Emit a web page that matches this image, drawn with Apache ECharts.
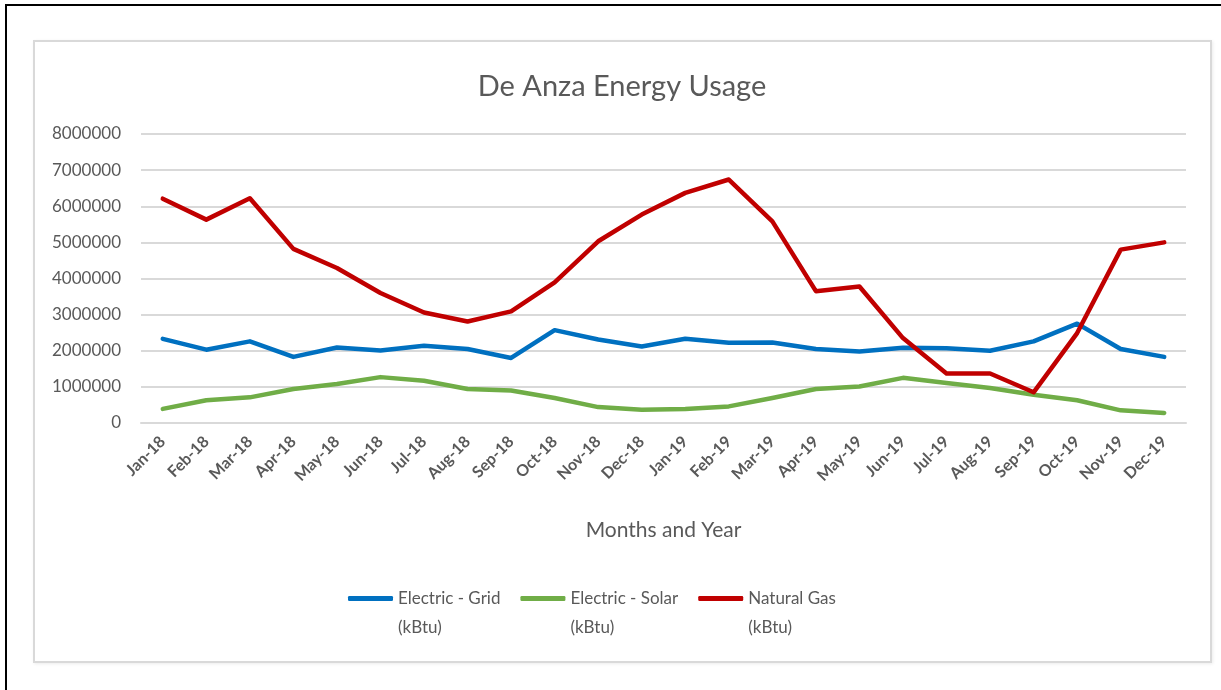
<!DOCTYPE html>
<html>
<head>
<meta charset="utf-8">
<title>De Anza Energy Usage</title>
<script src="https://cdn.jsdelivr.net/npm/echarts@6/dist/echarts.min.js"></script>
<style>
    html, body { margin: 0; padding: 0; background: #fff; }
    #frame {
        position: absolute; left: 5px; top: 4px; width: 1216px; height: 686px;
        border-left: 2px solid #000; border-top: 2px solid #000;
    }
    #panel {
        position: absolute; left: 33px; top: 40px; width: 1175px; height: 619px;
        border: 2px solid #d9d9d9; box-shadow: 1px 1px 3px rgba(0,0,0,0.08);
    }
    #chart { position: absolute; left: 0; top: 0; width: 1221px; height: 690px; }
</style>
</head>
<body>
<div id="frame"></div>
<div id="panel"></div>
<div id="chart"></div>
<script>
const months = ['Jan-18', 'Feb-18', 'Mar-18', 'Apr-18', 'May-18', 'Jun-18', 'Jul-18', 'Aug-18',
    'Sep-18', 'Oct-18', 'Nov-18', 'Dec-18', 'Jan-19', 'Feb-19', 'Mar-19', 'Apr-19', 'May-19',
    'Jun-19', 'Jul-19', 'Aug-19', 'Sep-19', 'Oct-19', 'Nov-19', 'Dec-19'];

const electricGrid = [2330000, 2030000, 2260000, 1830000, 2090000, 2010000, 2140000, 2050000,
    1800000, 2570000, 2310000, 2120000, 2330000, 2220000, 2230000, 2050000, 1980000,
    2080000, 2070000, 2000000, 2260000, 2750000, 2050000, 1830000];

const electricSolar = [390000, 630000, 710000, 940000, 1080000, 1270000, 1170000, 940000,
    900000, 690000, 440000, 370000, 390000, 460000, 690000, 940000, 1010000,
    1250000, 1110000, 970000, 780000, 630000, 350000, 280000];

const naturalGas = [6210000, 5630000, 6220000, 4820000, 4290000, 3600000, 3060000, 2810000,
    3090000, 3890000, 5030000, 5770000, 6370000, 6740000, 5580000, 3650000, 3780000,
    2350000, 1370000, 1370000, 850000, 2490000, 4800000, 5000000];

const seriesNames = ['Electric - Grid\n(kBtu)', 'Electric - Solar\n(kBtu)', 'Natural Gas\n(kBtu)'];
const seriesColors = ['#0070c0', '#70ad47', '#c00000'];

const font = 'Lato, "Open Sans", sans-serif';
const grey = '#595959';

function lineSeries(name, data, color) {
    return {
        name: name,
        type: 'line',
        data: data,
        symbol: 'none',
        color: color,
        lineStyle: { width: 4.5, color: color, cap: 'round', join: 'round' }
    };
}

const chart = echarts.init(document.getElementById('chart'));
chart.setOption({
    animation: false,
    backgroundColor: 'transparent',
    textStyle: { fontFamily: font },
    title: {
        text: 'De Anza Energy Usage',
        left: 617,
        textAlign: 'center',
        top: 67,
        textStyle: { fontFamily: font, fontSize: 29, fontWeight: 'normal', color: grey }
    },
    grid: { left: 141, right: 35, top: 134, bottom: 267 },
    legend: {
        left: 343,
        top: 550,
        itemWidth: 45,
        itemHeight: 5,
        itemGap: 20,
        icon: 'roundRect',
        // leading blank line keeps the first text line level with the icon
        formatter: name => '\n' + name,
        textStyle: { fontFamily: font, fontSize: 17, color: grey, lineHeight: 29 },
        data: seriesNames
    },
    xAxis: {
        type: 'category',
        data: months,
        boundaryGap: true,
        axisLine: { lineStyle: { color: '#d9d9d9', width: 2 } },
        axisTick: { show: false },
        axisLabel: { rotate: 45, margin: 16, fontSize: 16, fontWeight: 'bold', color: grey, fontFamily: font, interval: 0 },
        name: 'Months and Year',
        nameLocation: 'middle',
        nameGap: 97,
        nameTextStyle: { fontFamily: font, fontSize: 21, color: grey }
    },
    yAxis: {
        type: 'value',
        min: 0,
        max: 8000000,
        interval: 1000000,
        axisLine: { show: false },
        axisTick: { show: false },
        axisLabel: { margin: 20, fontSize: 17, color: grey, fontFamily: font, formatter: v => String(v) },
        splitLine: { lineStyle: { color: '#d9d9d9', width: 2 } }
    },
    series: [
        lineSeries(seriesNames[0], electricGrid, seriesColors[0]),
        lineSeries(seriesNames[1], electricSolar, seriesColors[1]),
        lineSeries(seriesNames[2], naturalGas, seriesColors[2])
    ]
});
</script>
</body>
</html>
